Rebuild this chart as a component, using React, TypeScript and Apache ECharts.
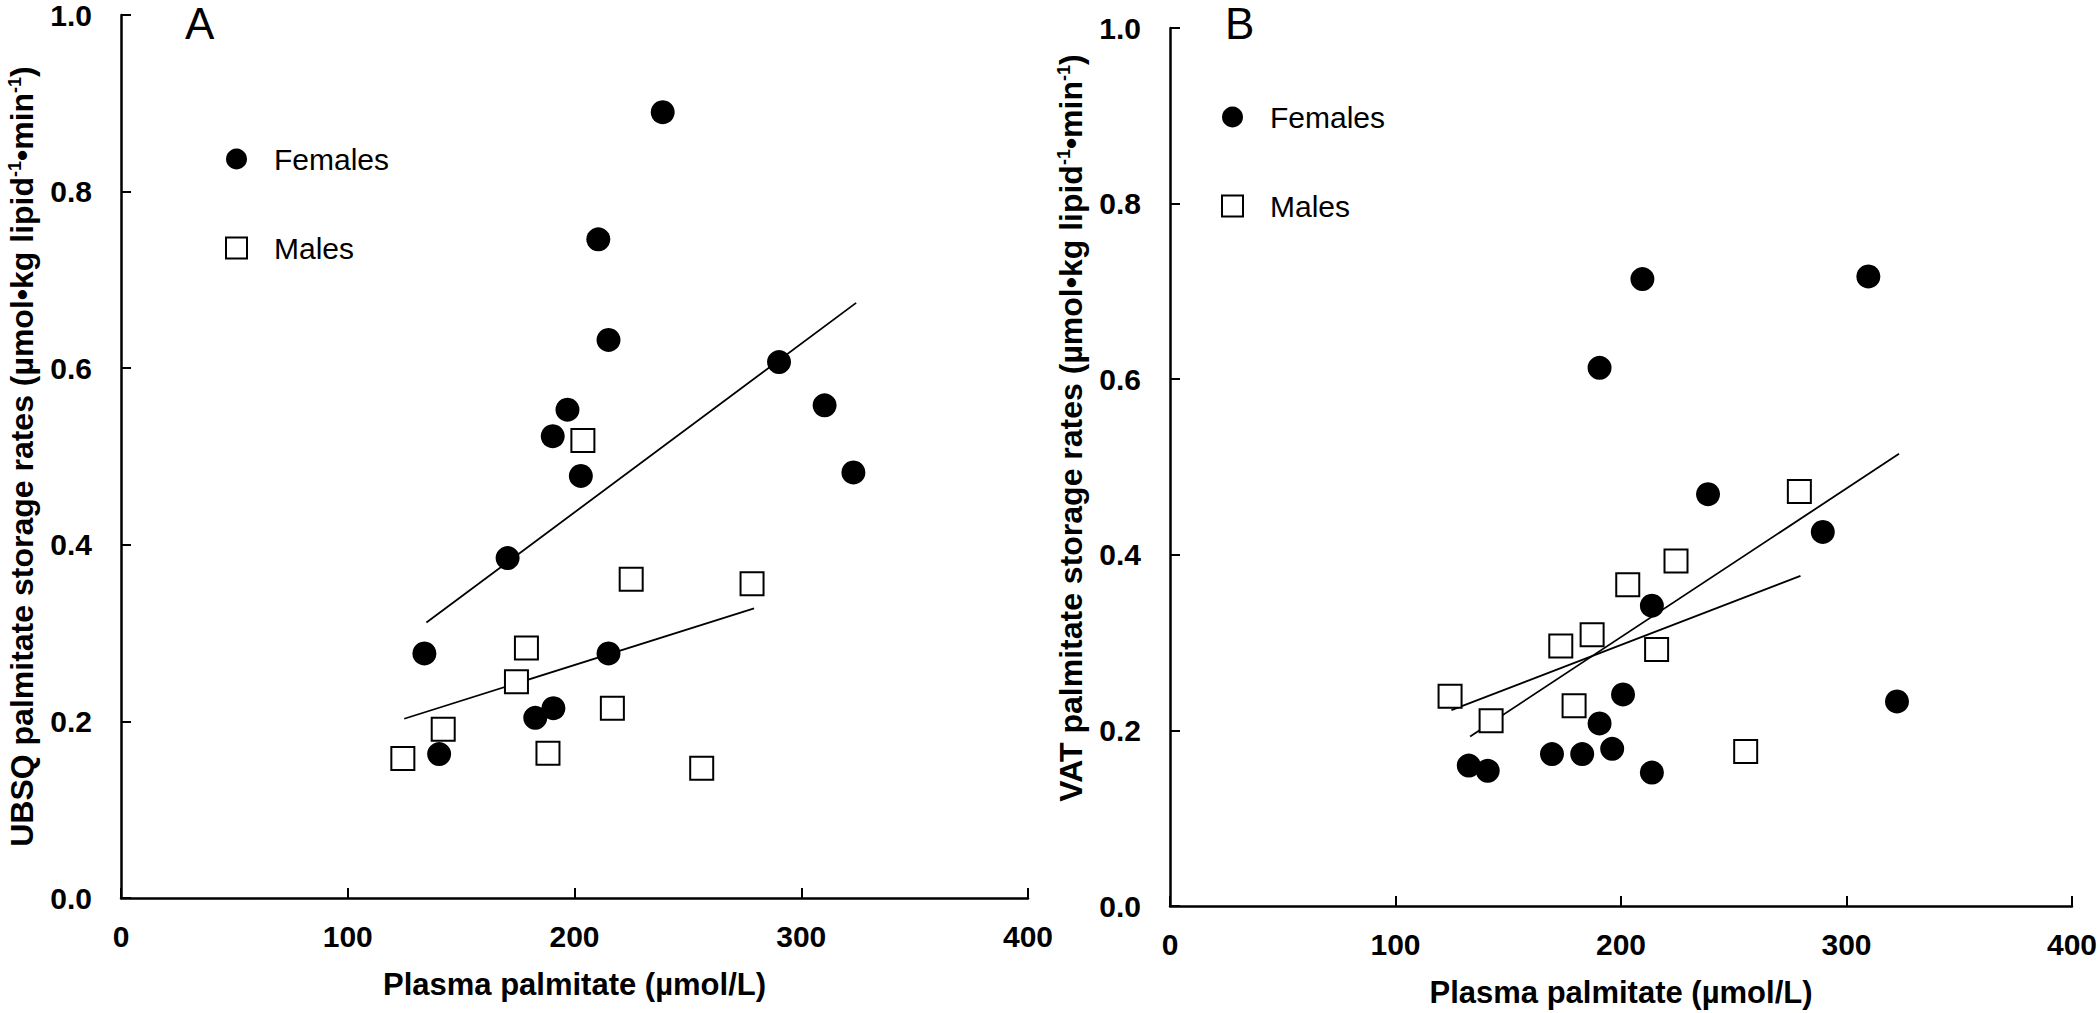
import React, { useEffect, useRef } from "react";
import * as echarts from "echarts";

// Panel A: UBSQ palmitate storage rates vs plasma palmitate
const femalesUBSQ: [number, number][] = [
  [238.9, 0.89], [210.5, 0.746], [215.0, 0.632], [196.9, 0.553], [190.4, 0.523],
  [202.8, 0.478], [290.2, 0.607], [310.3, 0.558], [323.0, 0.482], [170.5, 0.385],
  [133.8, 0.277], [215.0, 0.277], [182.7, 0.204], [190.7, 0.215], [140.3, 0.163],
];
const malesUBSQ: [number, number][] = [
  [203.7, 0.518], [225.0, 0.361], [278.3, 0.356], [178.8, 0.283], [174.4, 0.245],
  [216.7, 0.215], [142.1, 0.191], [124.3, 0.158], [188.3, 0.164], [256.1, 0.147],
];
const femalesUBSQFit: [number, number][] = [[134.7, 0.312], [324.2, 0.674]];
const malesUBSQFit: [number, number][] = [[124.9, 0.203], [279.2, 0.328]];

// Panel B: VAT palmitate storage rates vs plasma palmitate
const femalesVAT: [number, number][] = [
  [209.5, 0.714], [309.7, 0.717], [190.5, 0.613], [238.6, 0.469], [289.5, 0.426],
  [213.7, 0.342], [200.9, 0.241], [322.4, 0.233], [190.5, 0.208], [169.4, 0.173],
  [182.8, 0.173], [196.1, 0.179], [132.5, 0.16], [140.9, 0.154], [213.7, 0.152],
];
const malesVAT: [number, number][] = [
  [279.1, 0.472], [224.4, 0.393], [203.0, 0.366], [187.2, 0.309], [173.3, 0.296],
  [215.8, 0.292], [124.2, 0.239], [179.2, 0.228], [142.4, 0.211], [255.3, 0.176],
];
const femalesVATFit: [number, number][] = [[133.1, 0.193], [323.3, 0.515]];
const malesVATFit: [number, number][] = [[124.8, 0.223], [279.6, 0.376]];

const xTicks = { min: 0, max: 400, interval: 100 };
const yTicks = { min: 0, max: 1, interval: 0.2 };
const xName = "Plasma palmitate (µmol/L)";
const yNameA = ["UBSQ palmitate storage rates (µmol•kg lipid", "•min", ")"];
const yNameB = ["VAT palmitate storage rates (µmol•kg lipid", "•min", ")"];
const legendNames = ["Females", "Males"];
const panelLetters = ["A", "B"];

const FONT = "'Liberation Sans', Arial, Helvetica, sans-serif";

function richName(parts: string[]) {
  return `{m|${parts[0]}}{s|-1}{m|${parts[1]}}{s|-1}{m|${parts[2]}}`;
}

export default function App() {
  const ref = useRef<HTMLDivElement>(null);
  useEffect(() => {
    if (!ref.current) return;
    const chart = echarts.init(ref.current, undefined, { renderer: "svg" });

    const axisLine = { show: true, lineStyle: { color: "#000", width: 2.5 } };
    const axisTick = { show: true, inside: true, length: 10, lineStyle: { color: "#000", width: 2 } };
    const tickLabel = { color: "#000", fontFamily: FONT, fontWeight: "bold" as const, fontSize: 30 };

    const mkX = (gridIndex: number) => ({
      type: "value",
      gridIndex,
      ...xTicks,
      axisLine,
      axisTick,
      splitLine: { show: false },
      axisLabel: { ...tickLabel, margin: 23 },
      name: xName,
      nameLocation: "middle",
      nameGap: 71,
      nameTextStyle: { ...tickLabel, fontSize: 31 },
    });
    const mkY = (gridIndex: number, parts: string[], pad: number[]) => ({
      type: "value",
      gridIndex,
      ...yTicks,
      axisLine,
      axisTick,
      splitLine: { show: false },
      axisLabel: { ...tickLabel, margin: 29, formatter: (v: number) => v.toFixed(1) },
      name: richName(parts),
      nameLocation: "middle",
      nameRotate: 90,
      nameGap: 83,
      nameTextStyle: {
        padding: pad,
        rich: {
          m: { ...tickLabel, fontSize: 32 },
          s: { ...tickLabel, fontSize: 18, verticalAlign: "top" },
        },
      },
    });

    const femaleStyle = { color: "#000", opacity: 1 };
    const maleStyle = { color: "#fff", borderColor: "#000", borderWidth: 2, opacity: 1 };
    const fitStyle = { color: "#000", width: 1.8 };

    const scatter = (name: string, data: [number, number][], idx: number, female: boolean) => ({
      type: "scatter",
      name,
      xAxisIndex: idx,
      yAxisIndex: idx,
      data,
      symbol: female ? "circle" : "rect",
      symbolSize: female ? 24 : 23,
      itemStyle: female ? femaleStyle : maleStyle,
      z: 3,
    });
    const fit = (data: [number, number][], idx: number) => ({
      type: "line",
      xAxisIndex: idx,
      yAxisIndex: idx,
      data,
      symbol: "none",
      silent: true,
      lineStyle: fitStyle,
      z: 2,
    });

    const legend = (left: number, top: number) => ({
      data: legendNames,
      orient: "vertical",
      left,
      top,
      padding: 0,
      itemWidth: 21,
      itemHeight: 21,
      itemGap: 59,
      selectedMode: false,
      textStyle: { color: "#000", fontFamily: FONT, fontSize: 30, lineHeight: 30, padding: [0, 0, 0, 22] },
    });

    chart.setOption({
      animation: false,
      backgroundColor: "#fff",
      grid: [
        { left: 121, top: 13, width: 907, height: 885 },
        { left: 1170, top: 28, width: 903, height: 882 },
      ],
      xAxis: [mkX(0), mkX(1)],
      yAxis: [mkY(0, yNameA, [0, 0, 0, 0]), mkY(1, yNameB, [0, 0, 0, 78])],
      legend: [legend(225, 144), legend(1221, 102)],
      graphic: [
        { type: "text", x: 185, y: 23, style: { text: panelLetters[0], fontFamily: FONT, fontSize: 44, fill: "#000", textVerticalAlign: "middle" } },
        { type: "text", x: 1225, y: 23, style: { text: panelLetters[1], fontFamily: FONT, fontSize: 44, fill: "#000", textVerticalAlign: "middle" } },
      ],
      series: [
        fit(femalesUBSQFit, 0),
        fit(malesUBSQFit, 0),
        scatter("Females", femalesUBSQ, 0, true),
        scatter("Males", malesUBSQ, 0, false),
        fit(femalesVATFit, 1),
        fit(malesVATFit, 1),
        scatter("Females", femalesVAT, 1, true),
        scatter("Males", malesVAT, 1, false),
      ],
    });
    return () => chart.dispose();
  }, []);
  return <div ref={ref} style={{ position: "absolute", left: 0, top: 0, width: 2100, height: 1013 }} />;
}
